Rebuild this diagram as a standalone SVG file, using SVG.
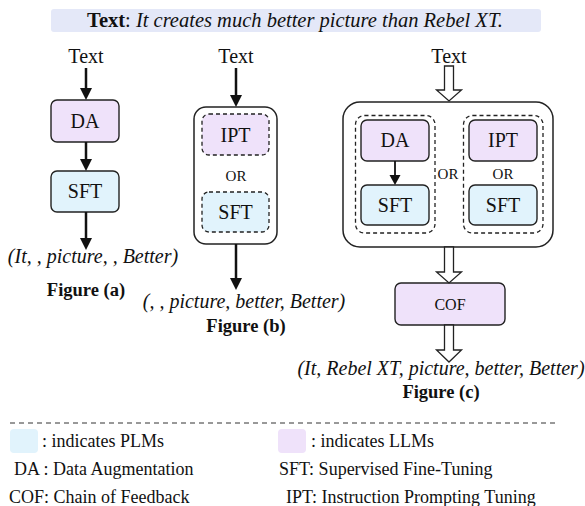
<svg xmlns="http://www.w3.org/2000/svg" width="585" height="506" viewBox="0 0 585 506">
  <style>
    text { font-family: "Liberation Serif", "Times New Roman", serif; fill: #111; }
    .lbl { font-size: 20px; text-anchor: middle; }
    .node { font-size: 20px; text-anchor: middle; }
    .small { font-size: 15px; text-anchor: middle; }
    .out { font-size: 20px; font-style: italic; text-anchor: middle; }
    .cap { font-size: 18.5px; font-weight: bold; text-anchor: middle; }
    .leg { font-size: 18px; }
    .llm { fill: #EFE2FA; stroke: #222; stroke-width: 1.4; }
    .plm { fill: #E1F3FC; stroke: #222; stroke-width: 1.4; }
    .dash { fill: none; stroke: #222; stroke-width: 1.3; stroke-dasharray: 4 3; }
    .group { fill: #fff; stroke: #222; stroke-width: 1.5; }
    .arrow { fill: none; stroke: #111; stroke-width: 2.5; marker-end: url(#head); }
    .hollow { fill: #fff; stroke: #222; stroke-width: 1.3; stroke-linejoin: miter; }
  </style>
  <defs>
    <marker id="head" viewBox="0 0 12 12" refX="1" refY="6" markerWidth="12" markerHeight="12" markerUnits="userSpaceOnUse" orient="auto">
      <path d="M0,0 L12,6 L0,12 Z" fill="#111"/>
    </marker>
  </defs>

  <!-- input sentence banner -->
  <g id="banner">
    <rect x="51" y="9" width="490" height="23" rx="3" fill="#E4E8F8"/>
    <text x="295" y="27" style="font-size:20.5px" text-anchor="middle"><tspan font-weight="bold">Text</tspan>: <tspan font-style="italic">It creates much better picture than Rebel XT.</tspan></text>
  </g>

  <!-- Figure (a) -->
  <g id="fig-a-input"><text class="lbl" x="86" y="63">Text</text></g>
  <g id="fig-a-da">
    <rect class="llm" x="51" y="100" width="68" height="42" rx="6"/>
    <text class="node" x="85" y="128">DA</text>
  </g>
  <g id="fig-a-sft">
    <rect class="plm" x="51" y="171" width="68" height="41" rx="6"/>
    <text class="node" x="85" y="198">SFT</text>
  </g>
  <g id="fig-a-output">
    <text class="out" x="93" y="263">(It, , picture, , Better)</text>
    <text class="cap" x="86" y="296">Figure (a)</text>
  </g>

  <!-- Figure (b) -->
  <g id="fig-b-input"><text class="lbl" x="236" y="63">Text</text></g>
  <g id="fig-b-group">
    <rect class="group" x="194" y="107" width="83" height="137" rx="12"/>
    <rect class="dash" x="202" y="114" width="67" height="41" rx="7" fill="#EFE2FA" style="fill:#EFE2FA"/>
    <text class="node" x="235.5" y="142">IPT</text>
    <text class="small" x="236" y="181">OR</text>
    <rect class="dash" x="202" y="192" width="67" height="40" rx="7" style="fill:#E1F3FC"/>
    <text class="node" x="235.5" y="219">SFT</text>
  </g>
  <g id="fig-b-output">
    <text class="out" x="244" y="308">(, , picture, better, Better)</text>
    <text class="cap" x="246" y="332">Figure (b)</text>
  </g>

  <!-- Figure (c) -->
  <g id="fig-c-input"><text class="lbl" x="449" y="63">Text</text></g>
  <g id="fig-c-group">
    <rect class="group" x="343" y="102" width="210" height="145" rx="17"/>
    <rect class="dash" x="355.5" y="115.5" width="79.5" height="117.5" rx="9"/>
    <rect class="dash" x="463.5" y="115.5" width="79.5" height="117.5" rx="9"/>
    <text class="small" x="448" y="179">OR</text>
  </g>
  <g id="fig-c-da">
    <rect class="llm" x="361" y="120" width="68" height="41" rx="6"/>
    <text class="node" x="395" y="147">DA</text>
  </g>
  <g id="fig-c-sft-left">
    <rect class="plm" x="361" y="185" width="68" height="40" rx="6"/>
    <text class="node" x="395" y="212">SFT</text>
  </g>
  <g id="fig-c-ipt">
    <rect class="llm" x="469" y="120" width="68" height="41" rx="6"/>
    <text class="node" x="503" y="147">IPT</text>
  </g>
  <g id="fig-c-or"><text class="small" x="503" y="179">OR</text></g>
  <g id="fig-c-sft-right">
    <rect class="plm" x="469" y="185" width="68" height="40" rx="6"/>
    <text class="node" x="503" y="212">SFT</text>
  </g>
  <g id="fig-c-cof">
    <rect class="llm" x="395" y="283" width="110" height="42" rx="6"/>
    <text x="450" y="310" style="font-size:16px" text-anchor="middle">COF</text>
  </g>
  <g id="fig-c-output">
    <text class="out" x="441" y="375">(It, Rebel XT, picture, better, Better)</text>
    <text class="cap" x="441" y="398">Figure (c)</text>
  </g>

  <!-- connectors -->
  <g id="connectors">
    <line class="arrow" x1="86" y1="68" x2="86" y2="89"/>
    <line class="arrow" x1="86" y1="142" x2="86" y2="160"/>
    <line class="arrow" x1="86" y1="212" x2="86" y2="239"/>
    <line class="arrow" x1="236" y1="68" x2="236" y2="96"/>
    <line class="arrow" x1="236" y1="244" x2="236" y2="279"/>
    <line x1="395" y1="161" x2="395" y2="176" stroke="#111" stroke-width="1.8"/>
    <path d="M389.5,175 L400.5,175 L395,185 Z" fill="#111"/>
    <path class="hollow" d="M444.5,66 H453.5 V90 H461.5 L449,101 L436.5,90 H444.5 Z"/>
    <path class="hollow" d="M444.5,247 H453.5 V272 H461.5 L449,283 L436.5,272 H444.5 Z"/>
    <path class="hollow" d="M444.5,325 H453.5 V350 H461.5 L449,362 L436.5,350 H444.5 Z"/>
  </g>

  <!-- legend -->
  <g id="legend">
    <line x1="10" y1="423" x2="555" y2="423" stroke="#333" stroke-width="1" stroke-dasharray="5 4"/>
    <rect x="10" y="429" width="28" height="24" rx="4" fill="#E1F3FC"/>
    <text class="leg" x="42" y="447">: indicates PLMs</text>
    <rect x="278" y="429" width="28" height="24" rx="4" fill="#EFE2FA"/>
    <text class="leg" x="311" y="447">: indicates LLMs</text>
    <text class="leg" x="14" y="475">DA : Data Augmentation</text>
    <text class="leg" x="279" y="475">SFT: Supervised Fine-Tuning</text>
    <text class="leg" x="9" y="503">COF: Chain of Feedback</text>
    <text class="leg" x="286" y="503">IPT: Instruction Prompting Tuning</text>
  </g>
</svg>
